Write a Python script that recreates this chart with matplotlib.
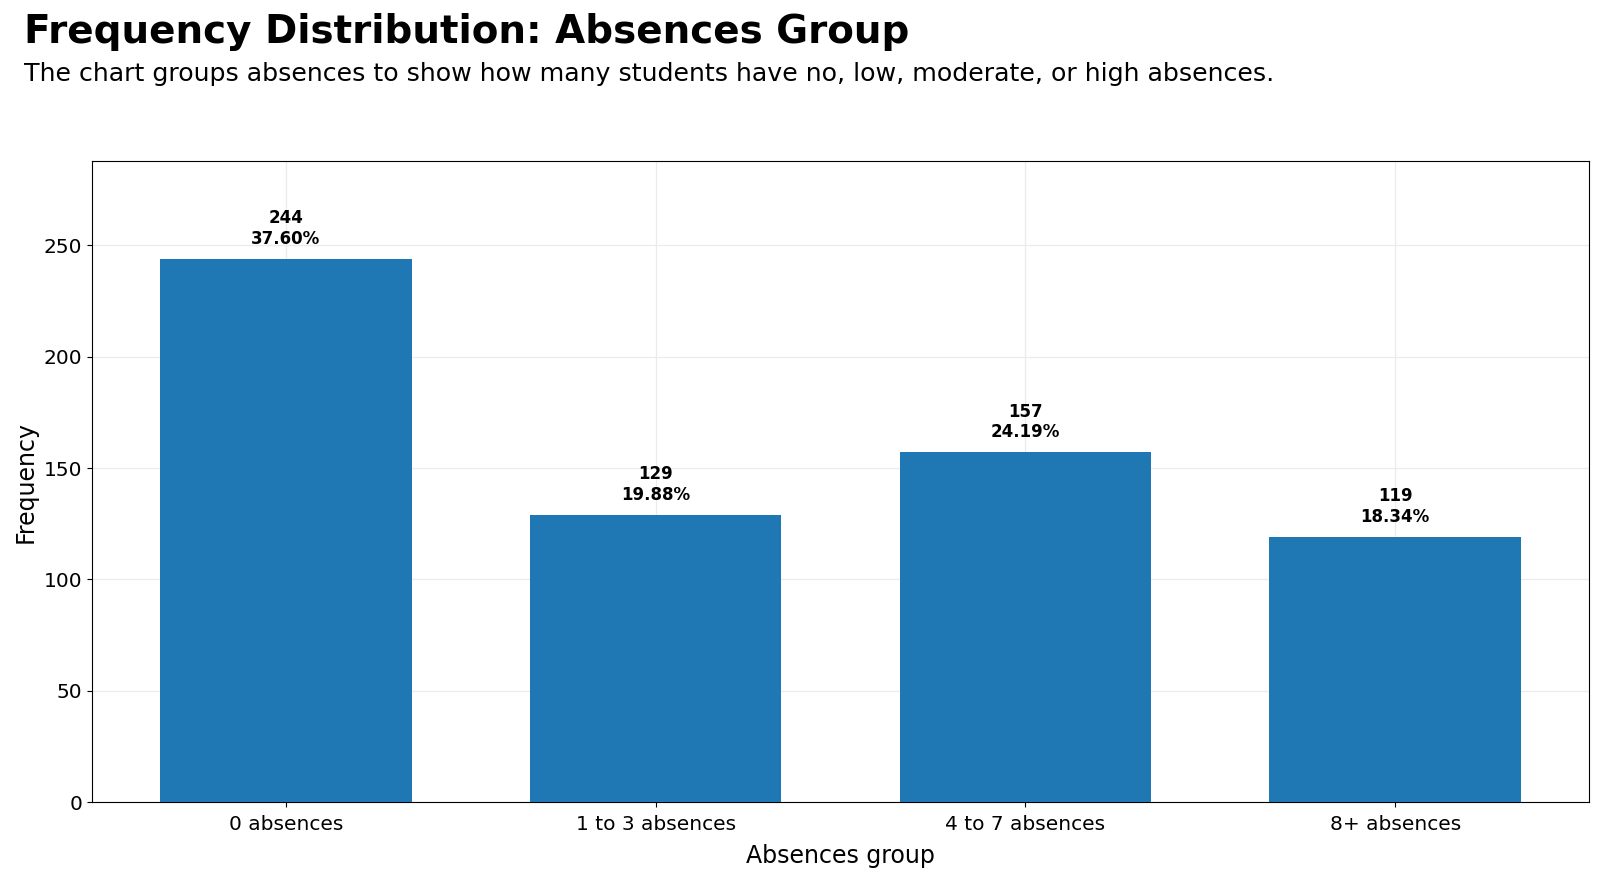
import matplotlib
matplotlib.use("Agg")
import matplotlib.pyplot as plt

categories = ["0 absences", "1 to 3 absences", "4 to 7 absences", "8+ absences"]
counts = [244, 129, 157, 119]
percents = [37.60, 19.88, 24.19, 18.34]

fig = plt.figure(figsize=(16, 8.77), dpi=100)
ax = fig.add_axes([92/1600, 1 - 802/877, (1589-92)/1600, (802-161)/877])

x = list(range(len(categories)))
bars = ax.bar(x, counts, width=0.68, color="#1f77b4", zorder=3)
ax.set_xticks(x)
ax.set_xticklabels(categories, fontsize=14.5)
ax.tick_params(axis="x", pad=6)
ax.tick_params(axis="y", labelsize=14.5)
ax.set_ylim(0, max(counts) * 1.18)
ax.grid(True, color="#ebebeb", linewidth=0.9, zorder=0)
ax.set_axisbelow(True)
ax.set_xlabel("Absences group", fontsize=17, labelpad=7)
ax.set_ylabel("Frequency", fontsize=17)

for xi, c, p in zip(x, counts, percents):
    ax.annotate(f"{c}\n{p:.2f}%", (xi, c), xytext=(0, 8), textcoords="offset points",
                ha="center", va="bottom", fontsize=12, fontweight="bold")

fig.text(24/1600, 1 - 32/877, "Frequency Distribution: Absences Group", fontsize=28,
         fontweight="bold", ha="left", va="center")
fig.text(24/1600, 1 - 74/877, "The chart groups absences to show how many students have no, low, moderate, or high absences.",
         fontsize=18.2, ha="left", va="center")

fig.savefig("out.png", dpi=100)
